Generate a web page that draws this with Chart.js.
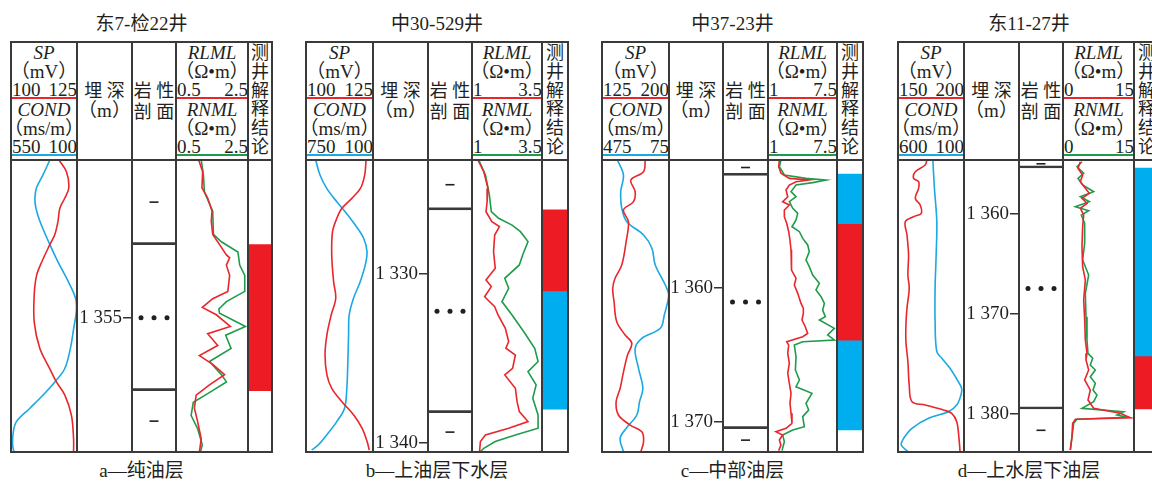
<!DOCTYPE html>
<html>
<head>
<meta charset="utf-8">
<script src="https://cdn.jsdelivr.net/npm/chart.js@4.4.0/dist/chart.umd.min.js"></script>
<style>
body { margin: 0; background: #fff; }
#page { position: relative; width: 1152px; height: 484px; overflow: hidden; background: #fff;
        font-family: "Liberation Serif", "Noto Sans CJK SC", serif; color: #231f20; }
.t { position: absolute; white-space: nowrap; line-height: 1; font-size: 19px; transform: translate(-50%, -50%); }
.sp { position: absolute; display: flex; justify-content: space-between; line-height: 1; font-size: 19px; transform: translateY(-50%); }
.ln { position: absolute; z-index: 5; }
canvas { position: absolute; }
</style>
</head>
<body>
<div id="page"></div>
<script>
// ---------- well a: 东7-检22井 ----------
const aDepthRange = [1344.2, 1364.2];
const aDepthTicks = [1355];
const aSpScale = [100, 125];
const aCondScale = [550, 100];
const aResScale = [0.5, 2.5];
const aSpDepth = [1344.2, 1345.0, 1346.1, 1346.8, 1347.5, 1348.4, 1349.3, 1350.0, 1351.2, 1352.1, 1353.4, 1355.3, 1357.1, 1358.5, 1359.4, 1360.3, 1361.7, 1363.3, 1364.2];
const aSp = [118.2, 121.0, 121.9, 120.4, 118.5, 117.8, 116.6, 114.7, 111.6, 109.7, 108.8, 108.8, 110.9, 114.7, 117.2, 120.4, 122.9, 123.7, 123.7];
const aCondDepth = [1344.2, 1345.2, 1346.1, 1346.8, 1347.5, 1348.4, 1350.0, 1351.2, 1352.5, 1353.7, 1354.6, 1355.7, 1357.1, 1358.5, 1359.4, 1360.3, 1361.2, 1362.1, 1362.8, 1363.7, 1364.2];
const aCond = [285, 331, 376, 387, 380, 353, 285, 229, 161, 109, 105, 122, 145, 184, 251, 331, 421, 512, 534, 539, 530];
const aRlmlDepth = [1344.2, 1345.0, 1346.1, 1346.8, 1347.7, 1348.4, 1349.3, 1350.0, 1350.7, 1350.9, 1351.4, 1352.1, 1353.2, 1353.7, 1354.3, 1354.8, 1355.6, 1356.1, 1356.9, 1357.6, 1358.2, 1358.9, 1359.6, 1360.3, 1361.2, 1362.1, 1363.3, 1364.2];
const aRlml = [1.13, 1.24, 1.22, 1.38, 1.50, 1.48, 1.52, 1.71, 1.90, 1.99, 1.90, 1.99, 1.94, 1.52, 1.23, 1.62, 2.01, 1.38, 1.66, 1.15, 1.52, 1.85, 1.43, 1.06, 1.01, 1.10, 1.20, 1.15];
const aRnmlDepth = [1344.2, 1345.2, 1346.4, 1347.7, 1349.3, 1349.8, 1350.5, 1351.4, 1352.1, 1353.2, 1353.9, 1354.4, 1354.7, 1355.6, 1356.2, 1357.1, 1358.0, 1358.9, 1359.4, 1360.2, 1360.8, 1361.7, 1362.6, 1363.7, 1364.2];
const aRnml = [1.20, 1.26, 1.29, 1.52, 1.54, 1.76, 2.22, 2.27, 2.41, 2.41, 1.90, 1.69, 1.71, 2.43, 1.88, 2.03, 1.43, 1.76, 1.90, 1.38, 0.98, 0.92, 1.10, 1.23, 1.18];
const aLithTop = [1344.2, 1350, 1360];
const aLithBase = [1350, 1360, 1364.2];
const aLithType = ["mud", "sand", "mud"];
const aZoneTop = [1350];
const aZoneBase = [1360];
const aZoneType = ["oil"];

// ---------- well b: 中30-529井 ----------
const bDepthRange = [1323.25, 1340.53];
const bDepthTicks = [1330, 1340];
const bSpScale = [100, 125];
const bCondScale = [750, 100];
const bResScale = [1, 3.5];
const bSpDepth = [1323.25, 1324.14, 1324.93, 1325.52, 1326.11, 1326.70, 1327.49, 1328.87, 1330.45, 1331.43, 1332.42, 1333.60, 1334.79, 1335.97, 1336.76, 1337.55, 1338.34, 1339.12, 1339.91, 1340.41];
const bSp = [122.4, 121.9, 120.3, 117.1, 113.4, 111.5, 109.9, 109.6, 110.3, 111.1, 109.4, 107.8, 107.1, 107.8, 109.6, 113.4, 117.8, 120.9, 122.8, 123.6];
const bCondDepth = [1323.25, 1324.14, 1324.93, 1325.72, 1326.31, 1327.10, 1327.88, 1328.67, 1329.46, 1330.45, 1331.43, 1332.42, 1333.60, 1335.18, 1336.76, 1337.94, 1338.73, 1339.52, 1340.11, 1340.41];
const bCond = [656, 614, 549, 451, 370, 272, 191, 158, 175, 224, 289, 331, 337, 344, 354, 376, 451, 549, 630, 695];
const bRlmlDepth = [1323.25, 1323.94, 1324.93, 1325.72, 1326.31, 1326.90, 1327.19, 1327.69, 1328.67, 1329.66, 1330.35, 1330.74, 1331.34, 1331.93, 1332.42, 1333.21, 1333.99, 1334.39, 1334.79, 1335.58, 1335.97, 1336.76, 1337.55, 1338.14, 1338.73, 1339.12, 1339.52, 1339.91, 1340.51];
const bRlml = [1.21, 1.42, 1.57, 1.54, 1.50, 1.71, 1.98, 1.81, 1.77, 1.83, 1.50, 1.69, 1.45, 1.81, 1.93, 2.19, 2.31, 2.21, 2.55, 2.45, 2.17, 2.55, 2.61, 2.69, 3.00, 2.31, 1.48, 1.30, 1.27];
const bRnmlDepth = [1323.25, 1324.14, 1325.32, 1326.31, 1326.70, 1327.10, 1327.49, 1328.08, 1328.87, 1329.46, 1330.25, 1330.84, 1331.63, 1332.42, 1333.41, 1334.39, 1335.18, 1335.77, 1336.56, 1337.35, 1338.34, 1339.12, 1339.52, 1339.91, 1340.31, 1340.51];
const bRnml = [1.24, 1.48, 1.62, 1.69, 1.95, 2.43, 2.73, 3.00, 2.81, 2.69, 2.17, 2.31, 2.07, 2.43, 2.85, 3.24, 3.36, 3.00, 3.29, 3.17, 3.36, 3.36, 2.55, 1.83, 1.42, 1.30];
const bLithTop = [1323.25, 1326.2, 1338.2];
const bLithBase = [1326.2, 1338.2, 1340.53];
const bLithType = ["mud", "sand", "mud"];
const bZoneTop = [1326.2, 1331.0];
const bZoneBase = [1331.0, 1338.0];
const bZoneType = ["oil", "water"];

// ---------- well c: 中37-23井 ----------
const cDepthRange = [1350.45, 1372.24];
const cDepthTicks = [1360, 1370];
const cSpScale = [125, 200];
const cCondScale = [475, 75];
const cResScale = [1, 7.5];
const cSpDepth = [1350.45, 1351.32, 1351.94, 1352.81, 1353.56, 1354.18, 1355.05, 1356.55, 1358.29, 1359.28, 1360.03, 1361.02, 1362.52, 1363.51, 1364.13, 1365.01, 1366.50, 1367.49, 1368.49, 1369.48, 1370.23, 1370.73, 1371.47, 1372.22];
const cSp = [173.4, 171.5, 157.3, 162.1, 160.3, 149.0, 154.6, 152.0, 147.1, 139.6, 137.0, 138.5, 141.5, 150.9, 158.4, 153.5, 148.3, 145.3, 140.8, 143.4, 156.5, 169.6, 171.5, 168.5];
const cCondDepth = [1350.45, 1351.57, 1352.81, 1354.06, 1355.05, 1356.05, 1357.04, 1358.29, 1359.78, 1360.53, 1362.02, 1363.01, 1363.76, 1364.51, 1366.00, 1367.49, 1368.49, 1369.48, 1370.48, 1371.22, 1372.22];
const cCond = [383, 347, 363, 357, 327, 227, 177, 157, 97, 77, 103, 127, 237, 277, 257, 231, 251, 267, 331, 367, 347];
const cRlmlDepth = [1350.45, 1350.95, 1351.44, 1351.82, 1351.94, 1352.07, 1352.32, 1352.69, 1353.19, 1353.56, 1353.81, 1354.18, 1354.68, 1355.17, 1355.80, 1356.42, 1357.17, 1357.91, 1358.66, 1359.28, 1359.78, 1360.40, 1361.15, 1361.52, 1361.89, 1362.39, 1362.89, 1363.39, 1363.64, 1364.01, 1364.26, 1364.88, 1365.62, 1366.37, 1367.11, 1367.86, 1368.61, 1369.35, 1370.10, 1370.47, 1370.72, 1370.97, 1371.34, 1371.72, 1372.14];
const cRlml = [2.07, 2.01, 2.22, 3.01, 4.89, 3.64, 3.01, 2.70, 2.86, 2.38, 3.01, 2.54, 2.54, 2.76, 2.95, 3.07, 3.17, 3.17, 3.26, 3.64, 3.48, 3.80, 4.11, 4.33, 4.33, 4.20, 4.51, 4.74, 4.27, 2.76, 2.95, 2.86, 3.01, 2.86, 3.01, 3.17, 3.07, 3.17, 3.26, 2.70, 1.75, 2.38, 2.07, 2.22, 2.01];
const cRnmlDepth = [1350.45, 1350.95, 1351.57, 1351.82, 1351.94, 1352.14, 1352.32, 1352.81, 1353.19, 1353.56, 1354.06, 1354.43, 1354.93, 1355.43, 1355.80, 1356.30, 1356.79, 1357.29, 1357.91, 1358.41, 1359.03, 1359.65, 1360.15, 1360.65, 1361.15, 1361.65, 1362.14, 1362.39, 1363.01, 1363.51, 1363.88, 1364.01, 1364.26, 1365.13, 1366.12, 1366.87, 1367.37, 1367.86, 1368.61, 1369.11, 1369.60, 1370.35, 1370.60, 1370.97, 1371.47, 1372.14];
const cRnml = [2.22, 2.07, 2.54, 4.58, 6.46, 5.21, 3.64, 3.17, 3.64, 3.01, 3.33, 3.80, 3.64, 3.26, 3.96, 4.27, 4.74, 4.89, 4.58, 4.89, 5.21, 5.84, 5.52, 6.00, 6.31, 6.15, 6.40, 5.84, 7.25, 6.62, 7.25, 4.27, 3.48, 3.64, 3.58, 3.96, 3.64, 5.14, 4.58, 4.83, 4.27, 4.42, 3.33, 2.38, 2.54, 2.32];
const cLithTop = [1350.45, 1351.6, 1370.5];
const cLithBase = [1351.6, 1370.5, 1372.24];
const cLithType = ["mud", "sand", "mud"];
const cZoneTop = [1351.5, 1355.2, 1363.9];
const cZoneBase = [1355.2, 1363.9, 1370.6];
const cZoneType = ["water", "oil", "water"];

// ---------- well d: 东11-27井 ----------
const dDepthRange = [1354.6, 1383.8];
const dDepthTicks = [1360, 1370, 1380];
const dSpScale = [150, 200];
const dCondScale = [600, 100];
const dResScale = [0, 15];
const dSpDepth = [1354.60, 1355.10, 1355.77, 1356.43, 1356.77, 1357.43, 1358.43, 1359.10, 1359.93, 1360.27, 1360.77, 1362.10, 1364.10, 1366.10, 1367.43, 1369.43, 1371.10, 1372.77, 1374.77, 1377.10, 1378.77, 1379.10, 1379.60, 1379.93, 1380.77, 1382.43, 1383.77];
const dSp = [171.9, 170.6, 163.1, 161.8, 165.6, 165.6, 163.1, 166.8, 167.6, 161.8, 155.5, 156.8, 158.0, 157.5, 158.5, 156.8, 156.0, 156.0, 157.5, 158.5, 160.6, 170.6, 184.4, 190.7, 194.5, 196.2, 197.0];
const dCondDepth = [1354.60, 1357.43, 1360.77, 1364.10, 1367.43, 1370.77, 1373.77, 1374.43, 1375.43, 1376.77, 1377.43, 1378.10, 1379.10, 1379.77, 1380.43, 1381.43, 1382.43, 1383.10, 1383.77];
const dCond = [336, 324, 306, 311, 319, 319, 306, 268, 206, 143, 118, 123, 155, 218, 369, 494, 557, 575, 525];
const dRlmlDepth = [1354.77, 1355.43, 1356.10, 1356.77, 1357.43, 1357.93, 1358.43, 1358.93, 1359.43, 1360.10, 1361.27, 1363.27, 1365.27, 1366.60, 1368.60, 1370.60, 1372.60, 1373.93, 1374.60, 1375.60, 1376.60, 1377.60, 1378.60, 1379.43, 1379.93, 1380.37, 1380.53, 1380.93, 1382.27, 1383.60];
const dRlml = [3.66, 3.17, 4.15, 3.66, 4.72, 5.56, 4.01, 5.07, 3.66, 4.37, 4.15, 4.01, 4.15, 4.72, 4.37, 4.58, 4.72, 5.07, 4.86, 5.42, 4.58, 5.77, 5.28, 6.48, 12.11, 14.22, 2.61, 2.04, 1.90, 1.55];
const dRnmlDepth = [1354.77, 1355.27, 1355.93, 1356.43, 1357.10, 1357.77, 1358.27, 1358.77, 1359.27, 1359.67, 1360.10, 1360.93, 1362.93, 1364.60, 1366.10, 1367.93, 1370.27, 1372.60, 1373.93, 1374.43, 1375.10, 1375.60, 1376.27, 1376.93, 1377.60, 1378.10, 1378.77, 1379.43, 1379.77, 1380.10, 1380.33, 1380.53, 1380.93, 1382.27, 1383.60];
const dRnml = [4.01, 2.96, 4.37, 3.17, 4.15, 6.48, 3.66, 5.56, 2.61, 5.42, 3.87, 4.58, 4.58, 4.15, 5.42, 4.72, 4.86, 5.07, 5.28, 6.27, 5.77, 6.83, 5.77, 6.83, 6.34, 7.18, 6.48, 4.01, 12.82, 11.41, 13.73, 2.96, 2.25, 1.90, 1.55];
const dLithTop = [1354.6, 1355.4, 1379.5];
const dLithBase = [1355.4, 1379.5, 1383.8];
const dLithType = ["mud", "sand", "mud"];
const dZoneTop = [1355.4, 1374.2];
const dZoneBase = [1374.2, 1379.5];
const dZoneType = ["water", "oil"];

// ---------- layout ----------
const TOP = 42, MID = 160, BOT = 452;
const INK = "#231f20", FRAME = "#3a3a3a";
const RED = "#e8262b", BLUE = "#1ba8e3", GREEN = "#1f9c4b";
const ZONE_COLORS = { oil: "#ed1c24", water: "#00aeef" };

const panels = [
    { title: "东7-检22井", caption: "a—纯油层", cols: [11, 77, 132, 176, 248, 272],
      range: aDepthRange, ticks: aDepthTicks, spScale: aSpScale, condScale: aCondScale, resScale: aResScale,
      sp: [aSpDepth, aSp], cond: [aCondDepth, aCond], rlml: [aRlmlDepth, aRlml], rnml: [aRnmlDepth, aRnml],
      lith: [aLithTop, aLithBase, aLithType], zone: [aZoneTop, aZoneBase, aZoneType] },
    { title: "中30-529井", caption: "b—上油层下水层", cols: [306, 373, 428, 472, 542, 568],
      range: bDepthRange, ticks: bDepthTicks, spScale: bSpScale, condScale: bCondScale, resScale: bResScale,
      sp: [bSpDepth, bSp], cond: [bCondDepth, bCond], rlml: [bRlmlDepth, bRlml], rnml: [bRnmlDepth, bRnml],
      lith: [bLithTop, bLithBase, bLithType], zone: [bZoneTop, bZoneBase, bZoneType] },
    { title: "中37-23井", caption: "c—中部油层", cols: [602, 669, 723, 768, 837, 863],
      range: cDepthRange, ticks: cDepthTicks, spScale: cSpScale, condScale: cCondScale, resScale: cResScale,
      sp: [cSpDepth, cSp], cond: [cCondDepth, cCond], rlml: [cRlmlDepth, cRlml], rnml: [cRnmlDepth, cRnml],
      lith: [cLithTop, cLithBase, cLithType], zone: [cZoneTop, cZoneBase, cZoneType] },
    { title: "东11-27井", caption: "d—上水层下油层", cols: [898, 964, 1019, 1063, 1134, 1160],
      range: dDepthRange, ticks: dDepthTicks, spScale: dSpScale, condScale: dCondScale, resScale: dResScale,
      sp: [dSpDepth, dSp], cond: [dCondDepth, dCond], rlml: [dRlmlDepth, dRlml], rnml: [dRnmlDepth, dRnml],
      lith: [dLithTop, dLithBase, dLithType], zone: [dZoneTop, dZoneBase, dZoneType] }
];

const page = document.getElementById("page");

function text(str, cx, cy, extra) {
    const d = document.createElement("div");
    d.className = "t";
    d.textContent = str;
    d.style.left = cx + "px";
    d.style.top = cy + "px";
    Object.assign(d.style, extra || {});
    page.appendChild(d);
}

function spread(a, b, x1, x2, cy) {
    const d = document.createElement("div");
    d.className = "sp";
    d.style.left = (x1 + 1) + "px";
    d.style.width = (x2 - x1 - 1) + "px";
    d.style.top = cy + "px";
    d.innerHTML = "<span>" + a + "</span><span>" + b + "</span>";
    page.appendChild(d);
}

function rect(x, y, w, h, color) {
    const d = document.createElement("div");
    d.className = "ln";
    Object.assign(d.style, { left: x + "px", top: y + "px", width: w + "px", height: h + "px", background: color });
    page.appendChild(d);
}

function makeCanvas(x, y, w, h) {
    const c = document.createElement("canvas");
    c.width = w;
    c.height = h;
    c.style.left = x + "px";
    c.style.top = y + "px";
    page.appendChild(c);
    return c;
}

function fmtDepth(v) {
    return Math.floor(v / 1000) + " " + String(v % 1000).padStart(3, "0");
}

function points(depths, values) {
    return depths.map((d, i) => ({ x: values[i], y: d }));
}

function depthScale(range, extra) {
    return Object.assign({ type: "linear", reverse: true, min: range[0], max: range[1], display: false }, extra || {});
}

function valueScale(scale) {
    return { type: "linear", position: "bottom", display: false,
             min: Math.min(scale[0], scale[1]), max: Math.max(scale[0], scale[1]), reverse: scale[0] > scale[1] };
}

const baseOptions = {
    responsive: false,
    animation: false,
    events: [],
    layout: { padding: 0 },
    plugins: { legend: { display: false }, tooltip: { enabled: false } }
};

// draws the lithology symbols in the middle of each layer bar
const lithSymbols = {
    id: "lithSymbols",
    afterDatasetsDraw(chart) {
        const ctx = chart.ctx;
        chart.data.datasets.forEach((ds, i) => {
            const bar = chart.getDatasetMeta(i).data[0];
            const cy = (bar.y + bar.base) / 2;
            ctx.save();
            ctx.fillStyle = INK;
            if (ds.lith === "sand") {
                [-13, 0, 13].forEach(dx => {
                    ctx.beginPath();
                    ctx.arc(bar.x + dx, cy, 2.5, 0, Math.PI * 2);
                    ctx.fill();
                });
            } else {
                ctx.fillRect(bar.x - 4.5, cy - 1, 9, 1.6);
            }
            ctx.restore();
        });
    }
};

function curve(series, color, axis, tension) {
    return { data: points(series[0], series[1]), borderColor: color, borderWidth: 1.6,
             pointRadius: 0, showLine: true, fill: false, tension: tension, xAxisID: axis };
}

function drawPanel(p) {
    const [c0, c1, c2, c3, c4, c5] = p.cols;
    const h = BOT - MID;

    // SP / COND track
    new Chart(makeCanvas(c0, MID, c1 - c0, h), {
        type: "scatter",
        data: { datasets: [curve(p.sp, RED, "x", 0.35), curve(p.cond, BLUE, "x2", 0.35)] },
        options: Object.assign({}, baseOptions, {
            scales: { x: valueScale(p.spScale), x2: valueScale(p.condScale), y: depthScale(p.range) }
        })
    });

    // depth track: the axis fills the track, its ticks end on the right border
    const dw = c2 - c1;
    new Chart(makeCanvas(c1, MID, dw, h), {
        type: "scatter",
        data: { datasets: [{ data: [] }] },
        options: Object.assign({}, baseOptions, {
            scales: {
                x: { type: "linear", display: false, min: 0, max: 1 },
                y: depthScale(p.range, {
                    display: true,
                    position: "left",
                    afterFit(s) {
                        s.width = dw - 1;
                        s.paddingTop = 0;
                        s.paddingBottom = 0;
                    },
                    afterBuildTicks(s) { s.ticks = p.ticks.map(v => ({ value: v })); },
                    grid: { drawOnChartArea: false, drawTicks: true, tickLength: 8, color: "#333", lineWidth: 1.5 },
                    border: { display: false },
                    ticks: { padding: 1, color: INK, autoSkip: false,
                             font: { family: "Liberation Serif", size: 19 }, callback: fmtDepth }
                })
            }
        })
    });

    // lithology track
    new Chart(makeCanvas(c2, MID, c3 - c2, h), {
        type: "bar",
        data: {
            labels: [""],
            datasets: p.lith[0].map((top, i) => ({
                data: [[top, p.lith[1][i]]], lith: p.lith[2][i], grouped: false,
                backgroundColor: "rgba(0,0,0,0)", borderColor: FRAME, borderSkipped: false,
                borderWidth: { top: 0, left: 0, right: 0, bottom: i < p.lith[0].length - 1 ? 2 : 0 },
                barPercentage: 1, categoryPercentage: 1
            }))
        },
        options: Object.assign({}, baseOptions, {
            scales: { x: { type: "category", display: false }, y: depthScale(p.range) }
        }),
        plugins: [lithSymbols]
    });

    // resistivity track
    new Chart(makeCanvas(c3, MID, c4 - c3, h), {
        type: "scatter",
        data: { datasets: [curve(p.rlml, RED, "x", 0), curve(p.rnml, GREEN, "x", 0)] },
        options: Object.assign({}, baseOptions, {
            scales: { x: valueScale(p.resScale), y: depthScale(p.range) }
        })
    });

    // interpretation track
    new Chart(makeCanvas(c4, MID, c5 - c4, h), {
        type: "bar",
        data: {
            labels: [""],
            datasets: p.zone[0].map((top, i) => ({
                data: [[top, p.zone[1][i]]], grouped: false, borderWidth: 0,
                backgroundColor: ZONE_COLORS[p.zone[2][i]], barPercentage: 1, categoryPercentage: 1
            }))
        },
        options: Object.assign({}, baseOptions, {
            scales: { x: { type: "category", display: false }, y: depthScale(p.range) }
        })
    });

    // frame
    [TOP, MID, BOT].forEach(y => rect(c0 - 1, y - 1, c5 - c0 + 2, 2, FRAME));
    p.cols.forEach(x => rect(x - 1, TOP - 1, 2, BOT - TOP + 2, FRAME));

    // header text
    const m1 = (c0 + c1) / 2, m2 = (c1 + c2) / 2, m3 = (c2 + c3) / 2, m4 = (c3 + c4) / 2, m5 = (c4 + c5) / 2;
    const it = { fontStyle: "italic" };
    text(p.title, (c0 + c5) / 2, 23);
    text(p.caption, (c0 + c5) / 2, 470);

    text("SP", m1, 52, it);
    text("（mV）", m1, 71);
    spread(p.spScale[0], p.spScale[1], c0, c1, 89);
    rect(c0 + 1, 96.5, c1 - c0 - 2, 2, RED);
    text("COND", m1, 109, it);
    text("（ms/m）", m1, 128);
    spread(p.condScale[0], p.condScale[1], c0, c1, 146);
    rect(c0 + 1, 154, c1 - c0 - 2, 2, BLUE);

    text("埋 深", m2, 91, { fontSize: "18px" });
    text("（m）", m2, 110);
    text("岩 性", m3, 91, { fontSize: "18px" });
    text("剖 面", m3, 112, { fontSize: "18px" });

    text("RLML", m4, 52, it);
    text("（Ω•m）", m4, 71);
    spread(p.resScale[0], p.resScale[1], c3, c4, 89);
    rect(c3 + 1, 96.5, c4 - c3 - 2, 2, RED);
    text("RNML", m4, 109, it);
    text("（Ω•m）", m4, 128);
    spread(p.resScale[0], p.resScale[1], c3, c4, 146);
    rect(c3 + 1, 154, c4 - c3 - 2, 2, GREEN);

    "测井解释结论".split("").forEach((ch, i) => text(ch, m5, 53 + i * 18.8, { fontSize: "18px" }));
}

panels.forEach(drawPanel);
</script>
</body>
</html>
